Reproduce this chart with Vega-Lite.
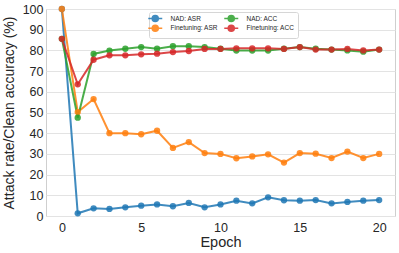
{
  "$schema": "https://vega.github.io/schema/vega-lite/v6.json",
  "autosize": {"type": "none"},
  "width": 349,
  "height": 207,
  "padding": {"left": 46, "top": 9, "right": 4, "bottom": 37},
  "background": "white",
  "config": {
    "font": "Liberation Sans",
    "view": {"stroke": "#cfcfcf", "strokeWidth": 1},
    "axis": {"domain": false, "ticks": false, "labelColor": "#262626", "titleColor": "#262626", "titleFontWeight": "normal", "gridColor": "#e3e3e3", "gridWidth": 1}
  },
  "data": {
    "values": [
      {"epoch": 0, "series": "NAD: ASR", "v": 100},
      {"epoch": 1, "series": "NAD: ASR", "v": 1.3},
      {"epoch": 2, "series": "NAD: ASR", "v": 3.7},
      {"epoch": 3, "series": "NAD: ASR", "v": 3.4},
      {"epoch": 4, "series": "NAD: ASR", "v": 4.2},
      {"epoch": 5, "series": "NAD: ASR", "v": 5.0},
      {"epoch": 6, "series": "NAD: ASR", "v": 5.6},
      {"epoch": 7, "series": "NAD: ASR", "v": 4.7},
      {"epoch": 8, "series": "NAD: ASR", "v": 6.3},
      {"epoch": 9, "series": "NAD: ASR", "v": 4.2},
      {"epoch": 10, "series": "NAD: ASR", "v": 5.6},
      {"epoch": 11, "series": "NAD: ASR", "v": 7.4},
      {"epoch": 12, "series": "NAD: ASR", "v": 6.1},
      {"epoch": 13, "series": "NAD: ASR", "v": 9.0},
      {"epoch": 14, "series": "NAD: ASR", "v": 7.6},
      {"epoch": 15, "series": "NAD: ASR", "v": 7.4},
      {"epoch": 16, "series": "NAD: ASR", "v": 7.7},
      {"epoch": 17, "series": "NAD: ASR", "v": 6.1},
      {"epoch": 18, "series": "NAD: ASR", "v": 6.8},
      {"epoch": 19, "series": "NAD: ASR", "v": 7.4},
      {"epoch": 20, "series": "NAD: ASR", "v": 7.7},
      {"epoch": 0, "series": "Finetuning: ASR", "v": 100},
      {"epoch": 1, "series": "Finetuning: ASR", "v": 50.2},
      {"epoch": 2, "series": "Finetuning: ASR", "v": 56.5},
      {"epoch": 3, "series": "Finetuning: ASR", "v": 40.0},
      {"epoch": 4, "series": "Finetuning: ASR", "v": 40.0},
      {"epoch": 5, "series": "Finetuning: ASR", "v": 39.5},
      {"epoch": 6, "series": "Finetuning: ASR", "v": 41.2},
      {"epoch": 7, "series": "Finetuning: ASR", "v": 32.9},
      {"epoch": 8, "series": "Finetuning: ASR", "v": 35.7},
      {"epoch": 9, "series": "Finetuning: ASR", "v": 30.4},
      {"epoch": 10, "series": "Finetuning: ASR", "v": 30.0},
      {"epoch": 11, "series": "Finetuning: ASR", "v": 27.9},
      {"epoch": 12, "series": "Finetuning: ASR", "v": 28.8},
      {"epoch": 13, "series": "Finetuning: ASR", "v": 29.8},
      {"epoch": 14, "series": "Finetuning: ASR", "v": 25.8},
      {"epoch": 15, "series": "Finetuning: ASR", "v": 30.4},
      {"epoch": 16, "series": "Finetuning: ASR", "v": 30.1},
      {"epoch": 17, "series": "Finetuning: ASR", "v": 28.0},
      {"epoch": 18, "series": "Finetuning: ASR", "v": 31.1},
      {"epoch": 19, "series": "Finetuning: ASR", "v": 28.0},
      {"epoch": 20, "series": "Finetuning: ASR", "v": 30.0},
      {"epoch": 0, "series": "NAD: ACC", "v": 85.6},
      {"epoch": 1, "series": "NAD: ACC", "v": 47.5},
      {"epoch": 2, "series": "NAD: ACC", "v": 78.3},
      {"epoch": 3, "series": "NAD: ACC", "v": 79.9},
      {"epoch": 4, "series": "NAD: ACC", "v": 80.8},
      {"epoch": 5, "series": "NAD: ACC", "v": 81.6},
      {"epoch": 6, "series": "NAD: ACC", "v": 80.8},
      {"epoch": 7, "series": "NAD: ACC", "v": 82.0},
      {"epoch": 8, "series": "NAD: ACC", "v": 82.0},
      {"epoch": 9, "series": "NAD: ACC", "v": 81.6},
      {"epoch": 10, "series": "NAD: ACC", "v": 80.8},
      {"epoch": 11, "series": "NAD: ACC", "v": 79.9},
      {"epoch": 12, "series": "NAD: ACC", "v": 79.9},
      {"epoch": 13, "series": "NAD: ACC", "v": 79.9},
      {"epoch": 14, "series": "NAD: ACC", "v": 80.8},
      {"epoch": 15, "series": "NAD: ACC", "v": 81.6},
      {"epoch": 16, "series": "NAD: ACC", "v": 80.8},
      {"epoch": 17, "series": "NAD: ACC", "v": 80.4},
      {"epoch": 18, "series": "NAD: ACC", "v": 80.0},
      {"epoch": 19, "series": "NAD: ACC", "v": 79.4},
      {"epoch": 20, "series": "NAD: ACC", "v": 80.4},
      {"epoch": 0, "series": "Finetuning: ACC", "v": 85.6},
      {"epoch": 1, "series": "Finetuning: ACC", "v": 63.6},
      {"epoch": 2, "series": "Finetuning: ACC", "v": 75.5},
      {"epoch": 3, "series": "Finetuning: ACC", "v": 77.6},
      {"epoch": 4, "series": "Finetuning: ACC", "v": 77.6},
      {"epoch": 5, "series": "Finetuning: ACC", "v": 78.1},
      {"epoch": 6, "series": "Finetuning: ACC", "v": 78.4},
      {"epoch": 7, "series": "Finetuning: ACC", "v": 79.2},
      {"epoch": 8, "series": "Finetuning: ACC", "v": 79.7},
      {"epoch": 9, "series": "Finetuning: ACC", "v": 80.7},
      {"epoch": 10, "series": "Finetuning: ACC", "v": 80.7},
      {"epoch": 11, "series": "Finetuning: ACC", "v": 81.0},
      {"epoch": 12, "series": "Finetuning: ACC", "v": 81.0},
      {"epoch": 13, "series": "Finetuning: ACC", "v": 81.0},
      {"epoch": 14, "series": "Finetuning: ACC", "v": 80.7},
      {"epoch": 15, "series": "Finetuning: ACC", "v": 81.6},
      {"epoch": 16, "series": "Finetuning: ACC", "v": 80.4},
      {"epoch": 17, "series": "Finetuning: ACC", "v": 80.4},
      {"epoch": 18, "series": "Finetuning: ACC", "v": 80.7},
      {"epoch": 19, "series": "Finetuning: ACC", "v": 80.0},
      {"epoch": 20, "series": "Finetuning: ACC", "v": 80.4}
    ]
  },
  "encoding": {
    "x": {"field": "epoch", "type": "quantitative", "scale": {"domain": [-1, 21], "nice": false, "zero": false},
      "axis": {"values": [0, 5, 10, 15, 20], "grid": false, "title": "Epoch", "labelFontSize": 12.5, "titleFontSize": 14.5, "labelPadding": 5, "titlePadding": 2}},
    "y": {"field": "v", "type": "quantitative", "scale": {"domain": [0, 100], "nice": false},
      "axis": {"values": [0, 10, 20, 30, 40, 50, 60, 70, 80, 90, 100], "title": "Attack rate/Clean accuracy (%)", "labelFontSize": 12.5, "titleFontSize": 14, "labelPadding": 3, "titlePadding": 6}},
    "color": {"field": "series", "type": "nominal",
      "scale": {"domain": ["NAD: ASR", "Finetuning: ASR", "NAD: ACC", "Finetuning: ACC"], "range": ["#1f77b4", "#ff7f0e", "#2ca02c", "#d62728"]},
      "legend": {"title": null, "orient": "none", "legendX": 103, "legendY": 3, "columns": 2, "columnPadding": 3, "rowPadding": -8,
        "labelFontSize": 6.5, "labelColor": "#262626", "labelOffset": 12, "symbolSize": 16, "symbolStrokeWidth": 1.6, "symbolOpacity": 0.85,
        "symbolType": "M-3.5,0L3.5,0M-1.5,0a1.5,1.5 0 1,0 3,0a1.5,1.5 0 1,0 -3,0",
        "padding": 3, "fillColor": "white", "strokeColor": "#d6d6d6", "cornerRadius": 2}}
  },
  "layer": [
    {"mark": {"type": "line", "strokeWidth": 2, "opacity": 0.85}},
    {"mark": {"type": "point", "filled": true, "size": 40, "opacity": 0.85}}
  ]
}
